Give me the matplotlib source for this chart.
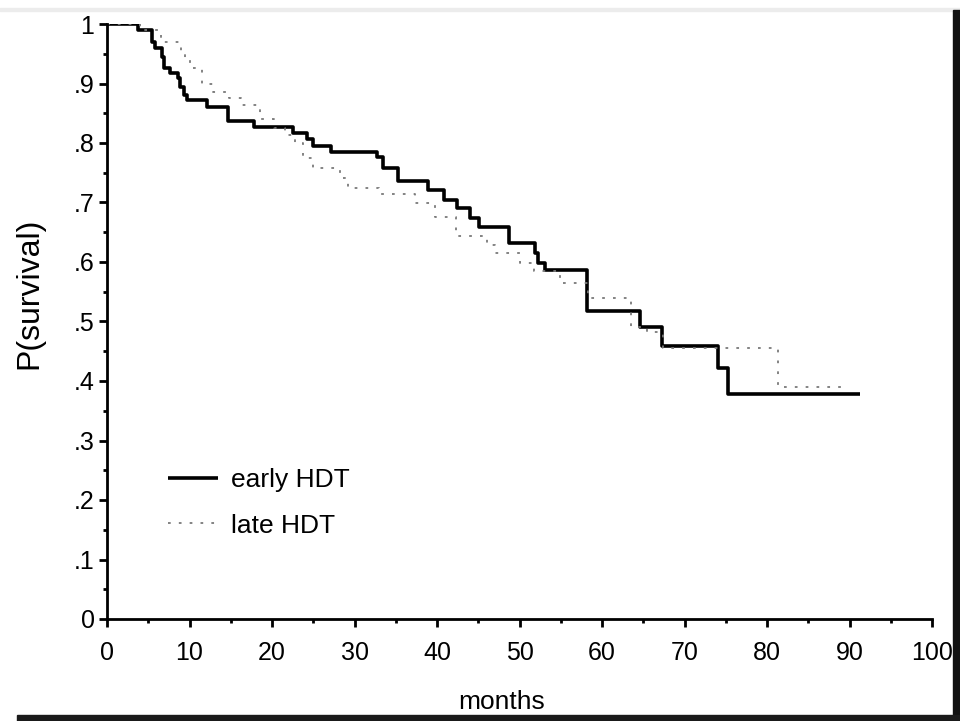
import matplotlib
matplotlib.use("Agg")
import matplotlib.pyplot as plt
from matplotlib.patches import Rectangle
from matplotlib.ticker import MultipleLocator, FuncFormatter

# Kaplan-Meier step curves (months, survival probability)
early_months = [0, 3.8, 5.5, 5.8, 6.7, 6.9, 7.6, 8.6, 8.8, 9.3, 9.7, 12.1, 14.7,
                17.8, 22.5, 24.3, 25.0, 27.2, 32.7, 33.5, 35.3, 38.9, 40.8, 42.4,
                44.0, 45.1, 48.7, 51.9, 52.2, 53.1, 58.2, 64.6, 67.3, 74.1, 75.3, 91.3]
early_surv = [1.0, 0.99, 0.97, 0.96, 0.945, 0.926, 0.918, 0.909, 0.894, 0.88, 0.872,
              0.86, 0.837, 0.827, 0.817, 0.807, 0.795, 0.785, 0.776, 0.758, 0.736,
              0.721, 0.704, 0.691, 0.674, 0.659, 0.632, 0.615, 0.598, 0.587, 0.518,
              0.49, 0.459, 0.422, 0.378, 0.378]

late_months = [0, 4.0, 6.5, 9.0, 9.5, 10.0, 11.5, 12.8, 14.8, 16.2, 18.5, 20.3, 21.6,
               22.8, 23.8, 25.0, 28.2, 29.2, 33.0, 37.3, 39.8, 42.3, 46.0, 47.0,
               50.0, 51.8, 54.9, 58.3, 63.5, 65.5, 67.4, 81.3, 89.3]
late_surv = [1.0, 0.99, 0.97, 0.95, 0.94, 0.926, 0.90, 0.886, 0.876, 0.864, 0.84,
             0.825, 0.813, 0.80, 0.775, 0.758, 0.741, 0.724, 0.714, 0.699, 0.676,
             0.644, 0.628, 0.615, 0.598, 0.585, 0.565, 0.54, 0.49, 0.482, 0.455,
             0.39, 0.39]

series_labels = ["early HDT", "late HDT"]

plt.rcParams["font.family"] = ["Liberation Sans", "DejaVu Sans"]

fig = plt.figure(figsize=(9.6, 7.21), dpi=100)
ax = fig.add_axes([107 / 960, 1 - 619 / 721, 825 / 960, 595 / 721])

ax.plot(early_months, early_surv, drawstyle="steps-post", color="black",
        lw=2.6, label=series_labels[0], solid_capstyle="butt")
ax.plot(late_months, late_surv, drawstyle="steps-post", color="#7a7a7a",
        lw=1.3, linestyle=(0, (1.5, 4.5)), label=series_labels[1])

ax.set_xlim(0, 100)
ax.set_ylim(0, 1)
for side in ("top", "right"):
    ax.spines[side].set_visible(False)
for side in ("left", "bottom"):
    ax.spines[side].set_linewidth(2.0)

ax.xaxis.set_major_locator(MultipleLocator(10))
ax.xaxis.set_minor_locator(MultipleLocator(5))
ax.yaxis.set_major_locator(MultipleLocator(0.1))
ax.yaxis.set_minor_locator(MultipleLocator(0.05))


def prob_fmt(v, pos):
    if abs(v) < 1e-9:
        return "0"
    if abs(v - 1) < 1e-9:
        return "1"
    return "." + f"{v:.1f}".split(".")[1]


ax.yaxis.set_major_formatter(FuncFormatter(prob_fmt))
ax.tick_params(which="major", direction="out", length=6, width=2, labelsize=18)
ax.tick_params(axis="x", which="major", pad=10)
ax.tick_params(axis="y", which="major", pad=3)
ax.tick_params(which="minor", direction="out", length=3, width=2)

ax.set_ylabel("P(survival)", fontsize=23)
ax.yaxis.set_label_coords(-0.076, 0.548)
fig.text(502 / 960, 1 - 702 / 721, "months", fontsize=19,
         ha="center", va="center")

ax.legend(loc="upper left", bbox_to_anchor=(0.074, 0.253), frameon=False,
          fontsize=19, handlelength=1.9, handletextpad=0.5,
          labelspacing=0.8, borderpad=0, borderaxespad=0)

# scan border: grey rule at top, dark strips at right and bottom
fig.patches.append(Rectangle((0, 1 - 11 / 721), 1, 3 / 721, transform=fig.transFigure,
                             color="#ececec", zorder=0))
fig.patches.append(Rectangle((953 / 960, 0), 7 / 960, 1 - 10 / 721,
                             transform=fig.transFigure, color="#111111", zorder=5))
fig.patches.append(Rectangle((17 / 960, 0), 1, 6 / 721,
                             transform=fig.transFigure, color="#1a1a1a", zorder=5))

fig.savefig("out.png", dpi=100)
